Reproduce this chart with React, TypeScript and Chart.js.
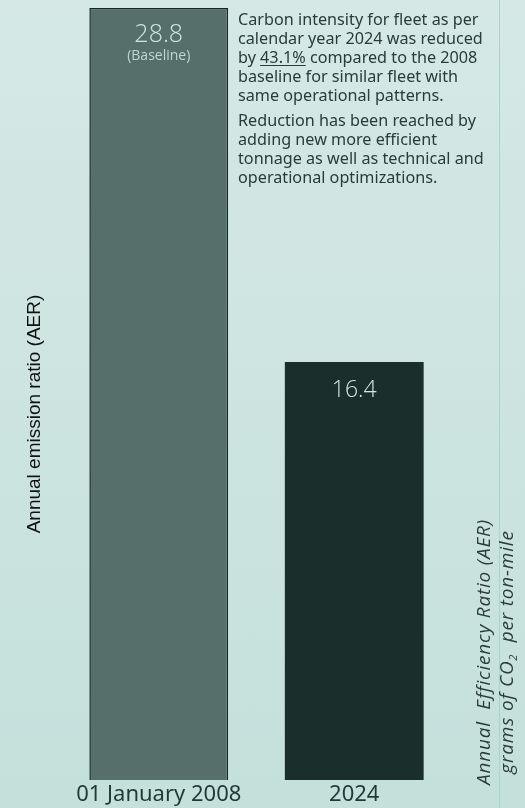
import React, { useEffect, useRef } from "react";
import { Chart, registerables } from "chart.js";

Chart.register(...registerables);

const categories = ["01 January 2008", "2024"];
const aerValues = [28.8, 16.4];
const valueNotes = ["(Baseline)", ""];
const barColors = ["#566f6a", "#1a2f2c"];
const barBorders = ["#132926", "#1a2f2c"];
const leftTitle = "Annual emission ratio (AER)";
const rightTitleLine1 = "Annual  Efficiency Ratio (AER)";
const rightTitleLine2 = ["grams of CO", "2", "  per ton-mile"];
const reduction = "43.1%";
const paragraph1 = [
  ["Carbon intensity for fleet as per"],
  ["calendar year 2024 was reduced"],
  ["by ", reduction, " compared to the 2008"],
  ["baseline for similar fleet with"],
  ["same operational patterns."],
];
const paragraph2 = [
  "Reduction has been reached by",
  "adding new more efficient",
  "tonnage as well as technical and",
  "operational optimizations.",
];

const W = 525;
const H = 808;

const decorPlugin = {
  id: "decor",
  beforeDraw(chart: any) {
    const ctx = chart.ctx;
    ctx.save();
    ctx.strokeStyle = "#a9d3cc";
    ctx.lineWidth = 1;
    ctx.beginPath();
    ctx.moveTo(499.5, 0);
    ctx.lineTo(499.5, H);
    ctx.stroke();
    ctx.restore();
  },
  afterDraw(chart: any) {
    const ctx = chart.ctx;
    // left title
    ctx.save();
    ctx.translate(35, 414);
    ctx.rotate(-Math.PI / 2);
    ctx.font = "19px 'Liberation Sans', Arial, sans-serif";
    ctx.fillStyle = "#111111";
    ctx.textAlign = "center";
    ctx.textBaseline = "middle";
    ctx.fillText(leftTitle, 0, 0);
    ctx.restore();

    // right title
    const f1 = "italic 19px 'Open Sans', sans-serif";
    const f2 = "italic 11px 'Open Sans', sans-serif";
    ctx.save();
    ctx.translate(0, 652);
    ctx.rotate(-Math.PI / 2);
    try {
      (ctx as any).letterSpacing = "0.8px";
    } catch (e) {}
    ctx.font = f1;
    ctx.fillStyle = "#2b3c39";
    ctx.textBaseline = "middle";
    ctx.textAlign = "center";
    ctx.fillText(rightTitleLine1, 0, 485);
    ctx.font = f1;
    const wA = ctx.measureText(rightTitleLine2[0]).width;
    const wC = ctx.measureText(rightTitleLine2[2]).width;
    ctx.font = f2;
    const wB = ctx.measureText(rightTitleLine2[1]).width;
    const total = wA + wB + wC;
    let sx = -total / 2;
    ctx.textAlign = "left";
    ctx.font = f1;
    ctx.fillText(rightTitleLine2[0], sx, 508);
    sx += wA;
    ctx.font = f2;
    ctx.fillText(rightTitleLine2[1], sx, 514);
    sx += wB;
    ctx.font = f1;
    ctx.fillText(rightTitleLine2[2], sx, 508);
    ctx.restore();

    // value labels
    const meta = chart.getDatasetMeta(0);
    meta.data.forEach((bar: any, i: number) => {
      ctx.save();
      ctx.textAlign = "center";
      ctx.textBaseline = "middle";
      ctx.fillStyle = "#cde6e1";
      if (valueNotes[i]) {
        ctx.font = "300 25px 'Open Sans', sans-serif";
        ctx.fillText(String(aerValues[i]), bar.x, bar.y + 27);
        ctx.font = "14px 'Open Sans', sans-serif";
        ctx.fillStyle = "#bcd8d3";
        ctx.fillText(valueNotes[i], bar.x, bar.y + 48);
      } else {
        ctx.font = "300 23px 'Open Sans', sans-serif";
        ctx.fillText(String(aerValues[i]), bar.x, bar.y + 29);
      }
      ctx.restore();
    });
  },
};

export default function App() {
  const ref = useRef<HTMLCanvasElement | null>(null);
  useEffect(() => {
    if (!ref.current) return;
    const chart = new Chart(ref.current, {
      type: "bar",
      data: {
        labels: categories,
        datasets: [
          {
            data: aerValues,
            backgroundColor: barColors,
            borderColor: barBorders,
            borderWidth: [1.5, 0],
            categoryPercentage: 1,
            barPercentage: 0.71,
          },
        ],
      },
      options: {
        animation: false,
        responsive: false,
        maintainAspectRatio: false,
        layout: { padding: { left: 61, right: 73, top: 8, bottom: -2 } },
        plugins: {
          legend: { display: false },
          tooltip: { enabled: false },
          title: { display: false },
        },
        scales: {
          x: {
            grid: { display: false, drawTicks: false },
            border: { display: false },
            ticks: {
              padding: 4,
              color: "#1d3a36",
              font: { size: 22, family: "'Noto Sans', sans-serif", lineHeight: 1.0 },
            },
          },
          y: {
            display: false,
            min: 1.75,
            max: 28.8,
          },
        },
      },
      plugins: [decorPlugin],
    });
    return () => chart.destroy();
  }, []);

  const pStyle: React.CSSProperties = {
    position: "absolute",
    left: 238,
    width: 262,
    fontFamily: "'Noto Sans', sans-serif",
    fontSize: 16.2,
    lineHeight: "19px",
    color: "#2a3b38",
    whiteSpace: "nowrap",
  };

  return (
    <div
      style={{
        position: "fixed",
        left: 0,
        top: 0,
        width: W,
        height: H,
        background: "linear-gradient(to bottom, #d5e8e5, #c4e0db)",
        overflow: "hidden",
      }}
    >
      <canvas ref={ref} width={W} height={H} style={{ display: "block" }} />
      <div style={{ ...pStyle, top: 10 }}>
        {paragraph1.map((parts, i) => (
          <div key={i}>
            {parts.map((p, j) =>
              p === reduction ? (
                <span key={j} style={{ textDecoration: "underline", textUnderlineOffset: 2 }}>
                  {p}
                </span>
              ) : (
                <span key={j}>{p}</span>
              )
            )}
          </div>
        ))}
      </div>
      <div style={{ ...pStyle, top: 111 }}>
        {paragraph2.map((line, i) => (
          <div key={i}>{line}</div>
        ))}
      </div>
    </div>
  );
}
